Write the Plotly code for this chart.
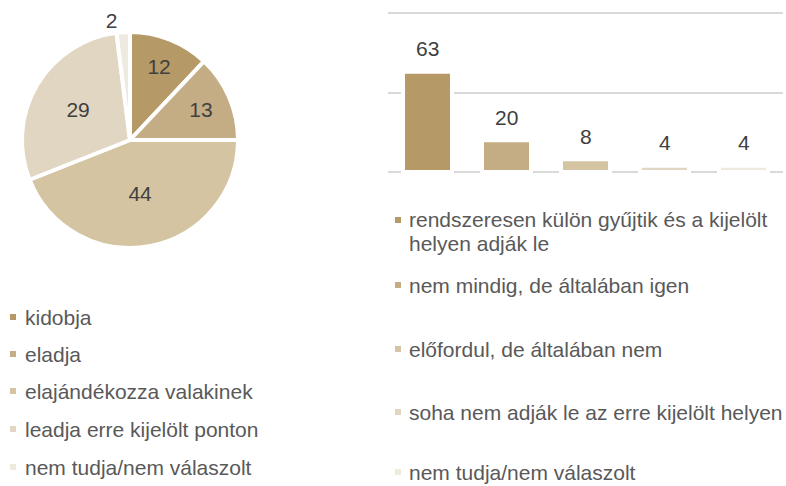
import plotly.graph_objects as go

W, H = 786, 486

pie_labels = ['kidobja', 'eladja', 'elajándékozza valakinek',
              'leadja erre kijelölt ponton', 'nem tudja/nem válaszolt']
pie_values = [12, 13, 44, 29, 2]

bar_labels = ['rendszeresen külön gyűjtik és a kijelölt<br>helyen adják le',
              'nem mindig, de általában igen',
              'előfordul, de általában nem',
              'soha nem adják le az erre kijelölt helyen',
              'nem tudja/nem válaszolt']
bar_values = [63, 20, 8, 4, 4]

colors = ['#b59a67', '#c4ad84', '#d4c4a2', '#e1d6c1', '#eeeae0']

FONT = "Liberation Sans, Arial, sans-serif"


def fx(x):
    return x / W


def fy(y):
    return 1 - y / H


fig = go.Figure()

fig.add_trace(
    go.Pie(
        labels = pie_labels,
        values = pie_values,
        sort = False,
        direction = "clockwise",
        rotation = 0,
        marker = dict(colors = colors, line = dict(color = 'white', width = 4)),
        textinfo = "value",
        textposition = ["inside", "inside", "inside", "inside", "outside"],
        insidetextorientation = "horizontal",
        textfont = dict(family = FONT, size = 21, color = '#404040'),
        domain = dict(x = [fx(22), fx(238)], y = [fy(248), fy(32)]),
        showlegend = False,
        hoverinfo = "label+value",
    )
)

fig.add_trace(
    go.Bar(
        x = bar_labels,
        y = bar_values,
        marker = dict(color = colors, line = dict(color = 'white', width = 4)),
        showlegend = False,
        hoverinfo = "y",
    )
)

annotations = []
for lab, val in zip(bar_labels, bar_values):
    annotations.append(dict(
        x = lab, y = val, xref = "x", yref = "y",
        text = str(val), showarrow = False,
        yanchor = "middle", yshift = 23,
        font = dict(family = FONT, size = 21, color = '#404040'),
    ))

shapes = []

# legend for the pie
pie_rows = [317, 354, 391, 429, 467]
for lab, col, y in zip(pie_labels, colors, pie_rows):
    shapes.append(dict(type = "rect", xref = "paper", yref = "paper",
                       x0 = fx(10), x1 = fx(16), y0 = fy(y + 3), y1 = fy(y - 3),
                       fillcolor = col, line = dict(width = 0)))
    annotations.append(dict(x = fx(23), y = fy(y), xref = "paper", yref = "paper",
                            text = lab, showarrow = False,
                            xanchor = "left", yanchor = "middle",
                            font = dict(family = FONT, size = 21, color = '#595959')))

# legend for the bars
bar_rows = [220, 285, 349, 412, 472]
for lab, col, y in zip(bar_labels, colors, bar_rows):
    shapes.append(dict(type = "rect", xref = "paper", yref = "paper",
                       x0 = fx(395), x1 = fx(401), y0 = fy(y + 3), y1 = fy(y - 3),
                       fillcolor = col, line = dict(width = 0)))
    for j, line in enumerate(lab.split("<br>")):
        annotations.append(dict(x = fx(407), y = fy(y + 23 * j), xref = "paper", yref = "paper",
                                text = line, showarrow = False,
                                xanchor = "left", yanchor = "middle",
                                font = dict(family = FONT, size = 21, color = '#595959')))

# 1.59 px per unit; pad range by 1 unit so gridlines at 0 and 100 are drawn
fig.update_layout(
    width = W,
    height = H,
    margin = dict(l = 0, r = 0, t = 0, b = 0),
    paper_bgcolor = 'white',
    plot_bgcolor = 'white',
    font = dict(family = FONT, size = 21, color = '#595959'),
    bargap = 0.38,
    xaxis = dict(
        domain = [fx(388), fx(783)],
        showticklabels = False,
        showgrid = False,
        zeroline = False,
        showline = False,
    ),
    yaxis = dict(
        domain = [fy(173.6), fy(11.4)],
        range = [-1, 101],
        tickvals = [0, 50, 100],
        showticklabels = False,
        gridcolor = '#d9d9d9',
        gridwidth = 2,
        zeroline = False,
        showline = False,
    ),
    annotations = annotations,
    shapes = shapes,
)

fig.write_html("out.html", config = {"displayModeBar": False},
               post_script = "document.body.style.margin = '0';")
